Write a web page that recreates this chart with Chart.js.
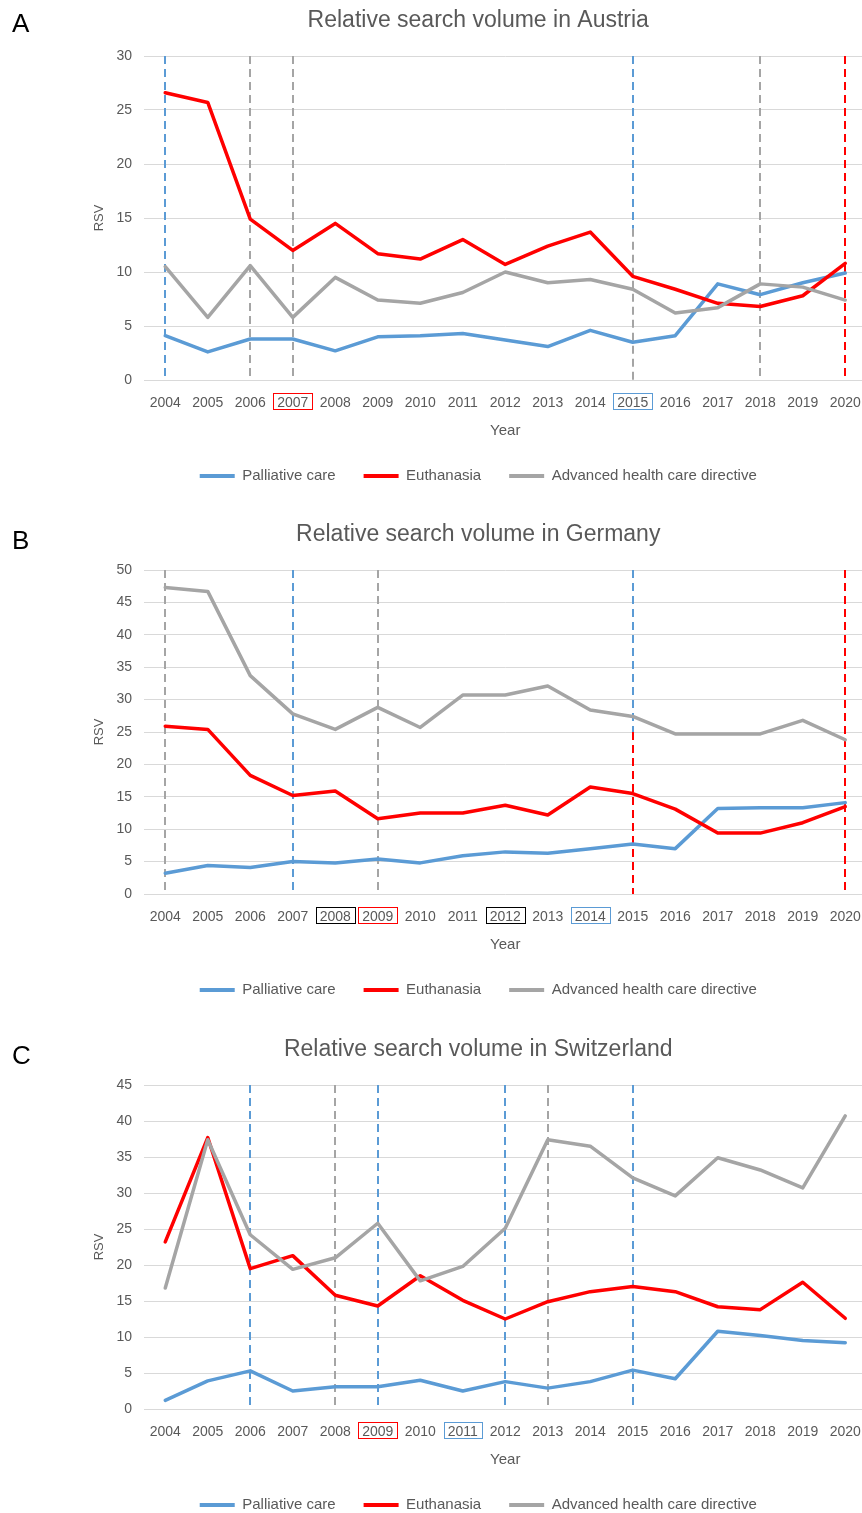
<!DOCTYPE html>
<html>
<head>
<meta charset="utf-8">
<script src="https://cdn.jsdelivr.net/npm/chart.js@4.4.1/dist/chart.umd.min.js"></script>
<style>
  html, body { margin: 0; padding: 0; background: #fff; overflow: hidden; width: 862px; height: 1513px; }
  .panel { position: absolute; left: 0; width: 880px; height: 500px; }
  .letter { position: absolute; left: 12px; font: 26px/26px 'Liberation Sans', Arial, sans-serif; color: #000; }
</style>
</head>
<body>
<div class="panel" style="top:0px"><canvas id="chartA"></canvas></div>
<div class="panel" style="top:514px"><canvas id="chartB"></canvas></div>
<div class="panel" style="top:1029px"><canvas id="chartC"></canvas></div>
<div class="letter" style="top:10px">A</div>
<div class="letter" style="top:527px">B</div>
<div class="letter" style="top:1042px">C</div>

<script>
const years = ['2004','2005','2006','2007','2008','2009','2010','2011','2012','2013','2014','2015','2016','2017','2018','2019','2020'];
const seriesNames = ['Palliative care', 'Euthanasia', 'Advanced health care directive'];

// Austria
const austriaPalliative = [4.1, 2.6, 3.8, 3.8, 2.7, 4.0, 4.1, 4.3, 3.7, 3.1, 4.6, 3.5, 4.1, 8.9, 7.9, 9.0, 9.9];
const austriaEuthanasia = [26.6, 25.7, 14.9, 12.0, 14.5, 11.7, 11.2, 13.0, 10.7, 12.4, 13.7, 9.6, 8.4, 7.1, 6.8, 7.8, 10.8];
const austriaDirective = [10.5, 5.8, 10.6, 5.8, 9.5, 7.4, 7.1, 8.1, 10.0, 9.0, 9.3, 8.4, 6.2, 6.7, 8.9, 8.6, 7.4];
const austriaTicks = [0, 5, 10, 15, 20, 25, 30];
// [year, topic, from, to]
const austriaMarkers = [['2004','palliative',0,30], ['2006','directive',0,30], ['2007','directive',0,30],
  ['2015','directive',0,14], ['2015','palliative',14,30], ['2018','directive',0,30], ['2020','euthanasia',0,30]];
const austriaBoxed = [['2007','euthanasia'], ['2015','palliative']];

// Germany
const germanyPalliative = [3.2, 4.4, 4.1, 5.0, 4.8, 5.4, 4.8, 5.9, 6.5, 6.3, 7.0, 7.7, 7.0, 13.2, 13.3, 13.3, 14.1];
const germanyEuthanasia = [25.9, 25.4, 18.3, 15.2, 15.9, 11.6, 12.5, 12.5, 13.7, 12.2, 16.5, 15.5, 13.1, 9.4, 9.4, 11.0, 13.5];
const germanyDirective = [47.3, 46.7, 33.7, 27.8, 25.4, 28.8, 25.7, 30.7, 30.7, 32.1, 28.4, 27.4, 24.7, 24.7, 24.7, 26.8, 23.8];
const germanyTicks = [0, 5, 10, 15, 20, 25, 30, 35, 40, 45, 50];
const germanyMarkers = [['2004','directive',0,50], ['2007','palliative',0,50], ['2009','directive',0,50],
  ['2015','euthanasia',0,25], ['2015','palliative',25,50], ['2020','euthanasia',0,50]];
const germanyBoxed = [['2008','other'], ['2009','euthanasia'], ['2012','other'], ['2014','palliative']];

// Switzerland
const swissPalliative = [1.2, 3.9, 5.3, 2.5, 3.1, 3.1, 4.0, 2.5, 3.8, 2.9, 3.8, 5.4, 4.2, 10.8, 10.2, 9.5, 9.2];
const swissEuthanasia = [23.2, 37.7, 19.5, 21.3, 15.8, 14.3, 18.5, 15.1, 12.5, 14.9, 16.3, 17.0, 16.3, 14.2, 13.8, 17.6, 12.6];
const swissDirective = [16.8, 37.4, 24.2, 19.4, 21.0, 25.8, 17.8, 19.8, 25.1, 37.4, 36.5, 32.1, 29.6, 34.9, 33.2, 30.7, 40.7];
const swissTicks = [0, 5, 10, 15, 20, 25, 30, 35, 40, 45];
const swissMarkers = [['2006','palliative',0,45], ['2008','directive',0,45], ['2009','palliative',0,45],
  ['2012','palliative',0,45], ['2013','directive',0,45], ['2015','palliative',0,45]];
const swissBoxed = [['2009','euthanasia'], ['2011','palliative']];

const colors = { palliative: '#5B9BD5', euthanasia: '#FF0000', directive: '#A5A5A5', other: '#000000' };
const textGray = '#595959';
const family = "'Liberation Sans', Arial, sans-serif";

Chart.defaults.font.family = family;
Chart.defaults.color = textGray;

const markerPlugin = {
  id: 'markers',
  beforeDatasetsDraw(chart, args, opts) {
    const { ctx, scales: { x, y } } = chart;
    ctx.save();
    ctx.lineWidth = 2;
    ctx.setLineDash([8, 5]);
    opts.lines.forEach(([year, topic, from, to]) => {
      const px = Math.round(x.getPixelForValue(years.indexOf(year)));
      ctx.strokeStyle = colors[topic];
      ctx.beginPath();
      ctx.moveTo(px, y.getPixelForValue(to));
      ctx.lineTo(px, y.getPixelForValue(from));
      ctx.stroke();
    });
    ctx.restore();
  },
  afterDraw(chart, args, opts) {
    const { ctx, scales: { x } } = chart;
    ctx.save();
    ctx.font = '14px ' + family;
    ctx.lineWidth = 1;
    opts.boxes.forEach(([year, topic]) => {
      const px = x.getPixelForTick(years.indexOf(year));
      const w = ctx.measureText(year).width + 8;
      ctx.strokeStyle = colors[topic];
      ctx.strokeRect(Math.round(px - w / 2) + 0.5, Math.round(x.top + 13) + 0.5, Math.round(w), 16);
    });
    ctx.restore();
  }
};

function makeChart(id, country, pall, euth, dir, ticks, markers, boxed) {
  const yMax = ticks[ticks.length - 1];
  new Chart(document.getElementById(id), {
    type: 'line',
    data: {
      labels: years,
      datasets: [
        { label: seriesNames[0], data: pall, borderColor: colors.palliative, order: 2 },
        { label: seriesNames[1], data: euth, borderColor: colors.euthanasia, order: 1 },
        { label: seriesNames[2], data: dir, borderColor: colors.directive, order: 0 }
      ].map(d => Object.assign(d, {
        backgroundColor: d.borderColor, borderWidth: 3.5, pointRadius: 0,
        tension: 0, borderJoinStyle: 'round', borderCapStyle: 'round'
      }))
    },
    options: {
      responsive: true,
      maintainAspectRatio: false,
      animation: false,
      devicePixelRatio: 1,
      layout: { padding: { left: 90, right: 13.5, top: 0, bottom: 6.5 } },
      scales: {
        x: {
          offset: true,
          grid: { display: false },
          border: { display: false },
          ticks: { autoSkip: false, maxRotation: 0, padding: 7, color: textGray, font: { size: 14 } },
          title: { display: true, text: 'Year', color: textGray, font: { size: 15 }, padding: { top: 0, bottom: 0.5 } },
          afterFit: s => { s.height = 60.5; }
        },
        y: {
          min: 0, max: yMax,
          afterBuildTicks: s => { s.ticks = ticks.map(v => ({ value: v })); },
          grid: { color: '#D9D9D9', lineWidth: 1, drawTicks: false },
          border: { display: false },
          ticks: { padding: 12, color: textGray, font: { size: 14 } },
          title: { display: true, text: 'RSV', color: textGray, font: { size: 13 }, padding: { top: 2, bottom: 0 } },
          afterFit: s => { s.width = 54; }
        }
      },
      plugins: {
        title: {
          display: true, text: 'Relative search volume in ' + country, color: textGray,
          font: { size: 23, weight: 'normal' }, padding: { top: 7, bottom: 21.4 }
        },
        legend: {
          position: 'bottom',
          labels: {
            boxWidth: 35, boxHeight: 4, padding: 28, color: textGray, font: { size: 15 },
            generateLabels: c => c.data.datasets.map((d, i) => ({
              text: d.label, fillStyle: d.borderColor, strokeStyle: d.borderColor,
              lineWidth: 0, hidden: false, datasetIndex: i, fontColor: textGray
            }))
          }
        },
        tooltip: { enabled: false },
        markers: { lines: markers, boxes: boxed }
      }
    },
    plugins: [markerPlugin]
  });
}

makeChart('chartA', 'Austria', austriaPalliative, austriaEuthanasia, austriaDirective, austriaTicks, austriaMarkers, austriaBoxed);
makeChart('chartB', 'Germany', germanyPalliative, germanyEuthanasia, germanyDirective, germanyTicks, germanyMarkers, germanyBoxed);
makeChart('chartC', 'Switzerland', swissPalliative, swissEuthanasia, swissDirective, swissTicks, swissMarkers, swissBoxed);
</script>
</body>
</html>
